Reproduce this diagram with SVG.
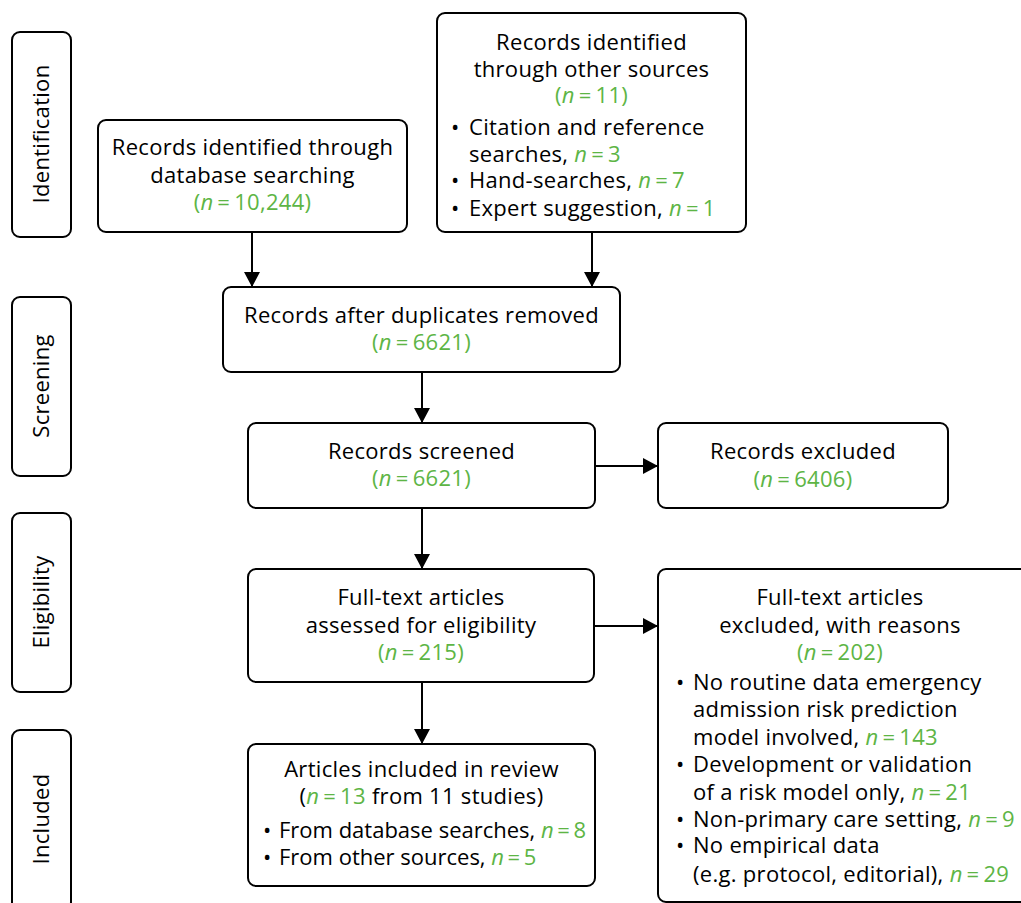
<svg xmlns="http://www.w3.org/2000/svg" width="1021" height="903" viewBox="0 0 1021 903">
<style>
.box{fill:#fff;stroke:#000;stroke-width:2}
text{font-family:"Open Sans","Noto Sans","Liberation Sans",sans-serif;font-size:22px;letter-spacing:0.3px;fill:#000}
.c{text-anchor:middle}
.g{fill:#5db545}
.i{font-style:italic}
.tight{letter-spacing:0}
.side{text-anchor:middle;font-size:22px}
.con{stroke:#000;stroke-width:2;fill:none}
</style>
<defs>
<marker id="ah" markerUnits="userSpaceOnUse" markerWidth="16" markerHeight="16" refX="15" refY="8" orient="auto">
<path d="M0,0 L15,8 L0,16 Z" fill="#000"/>
</marker>
</defs>
<rect width="1021" height="903" fill="#fff"/>

<g id="stage-identification"><rect class="box" x="12" y="32" width="59" height="205" rx="8"/><text class="side" transform="translate(49,134) rotate(-90)">Identification</text></g>
<g id="stage-screening"><rect class="box" x="12" y="297" width="59" height="179" rx="8"/><text class="side" transform="translate(49,386) rotate(-90)">Screening</text></g>
<g id="stage-eligibility"><rect class="box" x="12" y="513" width="59" height="179" rx="8"/><text class="side" transform="translate(49,602) rotate(-90)">Eligibility</text></g>
<g id="stage-included"><rect class="box" x="12" y="730" width="59" height="180" rx="8"/><text class="side" transform="translate(49,819) rotate(-90)">Included</text></g>

<g id="n-database"><rect class="box" x="98" y="120" width="309" height="112" rx="8"/>
<text class="c" x="252.5" y="155">Records identified through</text>
<text class="c" x="252.5" y="183">database searching</text>
<text class="c g" x="252.5" y="210">(<tspan class="i">n</tspan>&#8201;=&#8201;10,244)</text></g>

<g id="n-other"><rect class="box" x="437" y="13" width="309" height="219" rx="8"/>
<text class="c" x="591.5" y="50">Records identified</text>
<text class="c" x="591.5" y="77">through other sources</text>
<text class="c g" x="591.5" y="103">(<tspan class="i">n</tspan>&#8201;=&#8201;11)</text>
<text x="451" y="135">•</text><text x="469" y="135">Citation and reference</text>
<text x="469" y="162">searches, <tspan class="g i">n</tspan><tspan class="g">&#8201;=&#8201;3</tspan></text>
<text x="451" y="188">•</text><text x="469" y="188">Hand-searches, <tspan class="g i">n</tspan><tspan class="g">&#8201;=&#8201;7</tspan></text>
<text x="451" y="216">•</text><text x="469" y="216">Expert suggestion, <tspan class="g i">n</tspan><tspan class="g">&#8201;=&#8201;1</tspan></text></g>

<g id="n-duplicates"><rect class="box" x="223" y="287" width="397" height="85" rx="8"/>
<text class="c" x="421.5" y="323">Records after duplicates removed</text>
<text class="c g" x="421.5" y="350">(<tspan class="i">n</tspan>&#8201;=&#8201;6621)</text></g>

<g id="n-screened"><rect class="box" x="248" y="423" width="347" height="85" rx="8"/>
<text class="c" x="421.5" y="459">Records screened</text>
<text class="c g" x="421.5" y="486">(<tspan class="i">n</tspan>&#8201;=&#8201;6621)</text></g>

<g id="n-excluded"><rect class="box" x="658" y="423" width="290" height="85" rx="8"/>
<text class="c" x="803" y="459">Records excluded</text>
<text class="c g" x="803" y="487">(<tspan class="i">n</tspan>&#8201;=&#8201;6406)</text></g>

<g id="n-fulltext"><rect class="box" x="248" y="569" width="346" height="113" rx="8"/>
<text class="c" x="421" y="605">Full-text articles</text>
<text class="c" x="421" y="633">assessed for eligibility</text>
<text class="c g" x="421" y="660">(<tspan class="i">n</tspan>&#8201;=&#8201;215)</text></g>

<g id="n-ftexcluded"><rect class="box" x="658" y="569" width="372" height="333" rx="8"/>
<text class="c" x="840" y="605">Full-text articles</text>
<text class="c" x="840" y="633">excluded, with reasons</text>
<text class="c g" x="840" y="660">(<tspan class="i">n</tspan>&#8201;=&#8201;202)</text>
<text x="676" y="690">•</text><text x="693" y="690">No routine data emergency</text>
<text x="693" y="717">admission risk prediction</text>
<text x="693" y="745">model involved, <tspan class="g i">n</tspan><tspan class="g">&#8201;=&#8201;143</tspan></text>
<text x="676" y="772">•</text><text x="693" y="772">Development or validation</text>
<text x="693" y="800">of a risk model only, <tspan class="g i">n</tspan><tspan class="g">&#8201;=&#8201;21</tspan></text>
<text x="676" y="827">•</text><text x="693" y="827">Non-primary care setting, <tspan class="g i">n</tspan><tspan class="g">&#8201;=&#8201;9</tspan></text>
<text x="676" y="853">•</text><text x="693" y="853">No empirical data</text>
<text x="693" y="882">(e.g. protocol, editorial), <tspan class="g i">n</tspan><tspan class="g">&#8201;=&#8201;29</tspan></text></g>

<g id="n-included"><rect class="box" x="248" y="744" width="347" height="142" rx="8"/>
<text class="c" x="421.5" y="777">Articles included in review</text>
<text class="c" x="421.5" y="804">(<tspan class="g i">n</tspan><tspan class="g">&#8201;=&#8201;13</tspan> from 11 studies)</text>
<text x="263" y="838">•</text><text class="tight" x="279" y="838">From database searches, <tspan class="g i">n</tspan><tspan class="g">&#8201;=&#8201;8</tspan></text>
<text x="263" y="865">•</text><text class="tight" x="279" y="865">From other sources, <tspan class="g i">n</tspan><tspan class="g">&#8201;=&#8201;5</tspan></text></g>

<g id="connectors">
<line class="con" x1="252" y1="232" x2="252" y2="287" marker-end="url(#ah)"/>
<line class="con" x1="592" y1="232" x2="592" y2="287" marker-end="url(#ah)"/>
<line class="con" x1="422" y1="372" x2="422" y2="423" marker-end="url(#ah)"/>
<line class="con" x1="422" y1="508" x2="422" y2="569" marker-end="url(#ah)"/>
<line class="con" x1="422" y1="682" x2="422" y2="744" marker-end="url(#ah)"/>
<line class="con" x1="595" y1="466" x2="658" y2="466" marker-end="url(#ah)"/>
<line class="con" x1="594" y1="626" x2="658" y2="626" marker-end="url(#ah)"/>
</g>
</svg>
